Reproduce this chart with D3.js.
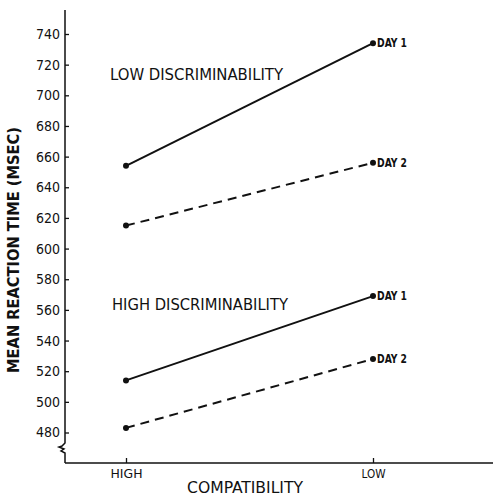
<!DOCTYPE html>
<html lang="en">
<head>
<meta charset="UTF-8">
<title>Mean reaction time by compatibility</title>
<script src="https://d3js.org/d3.v7.min.js"></script>
<style>
  body { margin: 0; background: #fff; }
  svg text { font-family: "DejaVu Sans Condensed", "Liberation Sans", sans-serif; fill: #111; }
</style>
</head>
<body>
<svg width="493" height="497"></svg>
<script>
// data
const compatibility = ["HIGH", "LOW"];
const yTicks = [480, 500, 520, 540, 560, 580, 600, 620, 640, 660, 680, 700, 720, 740];
const lowDiscDay1 = [654, 734];
const lowDiscDay2 = [615, 656];
const highDiscDay1 = [514, 569];
const highDiscDay2 = [483, 528];

const series = [
    { values: lowDiscDay1, dashed: false, label: "DAY 1" },
    { values: lowDiscDay2, dashed: true, label: "DAY 2" },
    { values: highDiscDay1, dashed: false, label: "DAY 1" },
    { values: highDiscDay2, dashed: true, label: "DAY 2" }
];

const margin = { left: 65, top: 0 },
    axisTop = 10,
    axisBottom = 463;

const svg = d3.select("svg")
    .append("g")
    .attr("transform", `translate(${margin.left},${margin.top})`);

const x = d3.scalePoint()
    .domain(compatibility)
    .range([61, 308]);

const y = d3.scaleLinear()
    .domain([480, 740])
    .range([432.5, 34]);

// y axis: ticks point inward, domain drawn by hand with a break
const yAxis = svg.append("g")
    .call(d3.axisLeft(y).tickValues(yTicks).tickSize(-4).tickPadding(5));
yAxis.select(".domain").remove();
yAxis.selectAll("line").attr("stroke", "#111").attr("stroke-width", 1.3);
yAxis.selectAll("text").attr("font-size", 14).attr("fill", "#111");

svg.append("path")
    .attr("d", `M0,${axisTop} L0,443 L-3,446 L-6,447 L-1,449 L-4,451 L0,453 L0,${axisBottom}`)
    .attr("fill", "none")
    .attr("stroke", "#111")
    .attr("stroke-width", 1.5);

// x axis
const xAxis = svg.append("g")
    .attr("transform", `translate(0,${axisBottom})`)
    .call(d3.axisBottom(x).tickSize(-5).tickPadding(6));
xAxis.select(".domain").remove();
xAxis.selectAll("line").attr("stroke", "#111").attr("stroke-width", 1.3);
xAxis.selectAll("text")
    .attr("font-size", 13)
    .attr("fill", "#111")
    .attr("textLength", d => d === "HIGH" ? 32 : 24)
    .attr("lengthAdjust", "spacingAndGlyphs");

svg.append("line")
    .attr("x1", 0).attr("x2", 493 - margin.left)
    .attr("y1", axisBottom).attr("y2", axisBottom)
    .attr("stroke", "#111")
    .attr("stroke-width", 1.5);

// axis titles
svg.append("text")
    .attr("x", 180)
    .attr("y", 493)
    .attr("text-anchor", "middle")
    .attr("font-size", 15)
    .attr("textLength", 116)
    .attr("lengthAdjust", "spacingAndGlyphs")
    .text("COMPATIBILITY");

svg.append("text")
    .attr("transform", `translate(${14 - margin.left},250) rotate(-90)`)
    .attr("text-anchor", "middle")
    .attr("dy", "0.35em")
    .attr("font-size", 15)
    .attr("font-weight", "bold")
    .attr("textLength", 246)
    .attr("lengthAdjust", "spacingAndGlyphs")
    .text("MEAN REACTION TIME (MSEC)");

// lines
const line = d3.line()
    .x((d, i) => x(compatibility[i]))
    .y(d => y(d));

series.forEach(s => {
    svg.append("path")
        .datum(s.values)
        .attr("d", line)
        .attr("fill", "none")
        .attr("stroke", "#111")
        .attr("stroke-width", 2)
        .attr("stroke-dasharray", s.dashed ? "9,6" : null);

    svg.selectAll(null)
        .data(s.values)
        .enter().append("circle")
        .attr("cx", (d, i) => x(compatibility[i]))
        .attr("cy", d => y(d))
        .attr("r", 3)
        .attr("fill", "#111");

    svg.append("text")
        .attr("x", x("LOW") + 4)
        .attr("y", y(s.values[1]))
        .attr("dy", "0.35em")
        .attr("font-size", 12)
        .attr("font-weight", "bold")
        .attr("textLength", 30)
        .attr("lengthAdjust", "spacingAndGlyphs")
        .text(s.label);
});

// group labels
svg.append("text")
    .attr("x", 110 - margin.left)
    .attr("y", 75)
    .attr("dy", "0.35em")
    .attr("font-size", 15)
    .attr("textLength", 173)
    .attr("lengthAdjust", "spacingAndGlyphs")
    .text("LOW DISCRIMINABILITY");

svg.append("text")
    .attr("x", 112 - margin.left)
    .attr("y", 305)
    .attr("dy", "0.35em")
    .attr("font-size", 15)
    .attr("textLength", 176)
    .attr("lengthAdjust", "spacingAndGlyphs")
    .text("HIGH DISCRIMINABILITY");
</script>
</body>
</html>
